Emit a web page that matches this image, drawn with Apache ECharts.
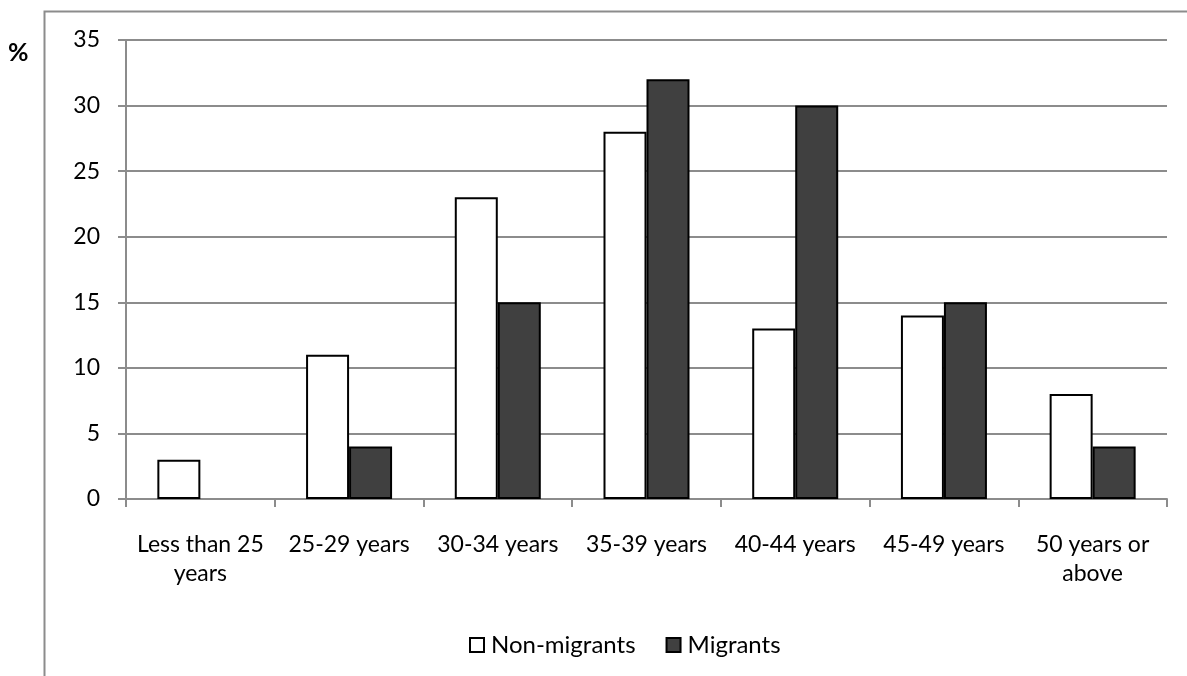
<!DOCTYPE html>
<html>
<head>
<meta charset="utf-8">
<script src="https://cdn.jsdelivr.net/npm/echarts@6/dist/echarts.min.js"></script>
<style>
  html, body { margin: 0; padding: 0; background: #fff; }
  #chart { width: 1187px; height: 676px; }
</style>
</head>
<body>
<div id="chart"></div>
<script>
// Age groups and share (%) of each group
const categories = ['Less than 25\nyears', '25-29 years', '30-34 years', '35-39 years', '40-44 years', '45-49 years', '50 years or\nabove'];
const nonMigrants = [3, 11, 23, 28, 13, 14, 8];
const migrants = [null, 4, 15, 32, 30, 15, 4];
const yTicks = [0, 5, 10, 15, 20, 25, 30, 35];

const FONT = 'Lato, "Open Sans", sans-serif';
const GRAY = '#8c8c8c';

const chart = echarts.init(document.getElementById('chart'));
chart.setOption({
  backgroundColor: '#fff',
  animation: false,
  textStyle: { fontFamily: FONT },
  graphic: [
    {
      type: 'rect',
      shape: { x: 44.5, y: 11.5, width: 1300, height: 800 },
      style: { fill: 'none', stroke: GRAY, lineWidth: 2 },
      silent: true
    },
    {
      type: 'text',
      left: 8, top: 40,
      style: { text: '%', font: 'bold 25px ' + FONT, fill: '#000' }
    }
  ],
  legend: {
    top: 628,
    left: 464,
    itemWidth: 14,
    itemHeight: 14,
    itemGap: 30,
    icon: 'rect',
    textStyle: { fontSize: 24, color: '#000', fontFamily: FONT, padding: [0, 0, 0, 2] },
    data: ['Non-migrants', 'Migrants']
  },
  grid: { left: 126, right: 20, top: 40, bottom: 177, containLabel: false },
  xAxis: {
    type: 'category',
    data: categories,
    axisLine: { lineStyle: { color: GRAY, width: 2 } },
    axisTick: { show: true, length: 8, lineStyle: { color: GRAY, width: 2 } },
    axisLabel: { color: '#000', fontSize: 23, lineHeight: 29, margin: 31, interval: 0, fontFamily: FONT }
  },
  yAxis: {
    type: 'value',
    min: 0, max: 35, interval: 5,
    axisLine: { show: true, lineStyle: { color: GRAY, width: 2 } },
    axisTick: { show: true, length: 8, lineStyle: { color: GRAY, width: 2 } },
    splitLine: { lineStyle: { color: GRAY, width: 2 } },
    axisLabel: {
      color: '#000', fontSize: 23, margin: 26, fontFamily: FONT,
      formatter: v => (yTicks.includes(v) ? String(v) : '')
    }
  },
  series: [
    {
      name: 'Non-migrants',
      type: 'bar',
      data: nonMigrants,
      barWidth: 43,
      barGap: '0%',
      itemStyle: { color: '#ffffff', borderColor: '#000', borderWidth: 2 }
    },
    {
      name: 'Migrants',
      type: 'bar',
      data: migrants,
      barWidth: 43,
      barGap: '0%',
      itemStyle: { color: '#404040', borderColor: '#000', borderWidth: 2 }
    }
  ]
});
</script>
</body>
</html>
